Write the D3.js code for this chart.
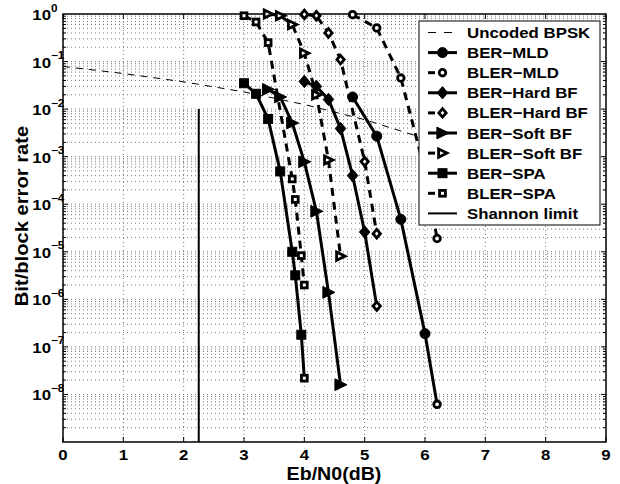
<!DOCTYPE html>
<html>
<head>
<meta charset="utf-8">
<script src="https://cdn.jsdelivr.net/npm/d3@7"></script>
<style>
  html, body { margin: 0; padding: 0; background: #fff; }
  svg text { font-family: "Liberation Sans", Arial, Helvetica, sans-serif; font-weight: bold; fill: #000; }
</style>
</head>
<body>
<svg id="chart" width="620" height="484"></svg>
<script>
// ---- data ----
const xTicks = [0, 1, 2, 3, 4, 5, 6, 7, 8, 9];
const yTickExponents = [0, -1, -2, -3, -4, -5, -6, -7, -8];

const ebn0Uncoded = [0, 1, 2, 3, 4, 5, 6, 7, 8];
const berUncoded  = [7.9e-2, 5.6e-2, 3.75e-2, 2.3e-2, 1.25e-2, 6.0e-3, 2.4e-3, 7.7e-4, 1.9e-4];

const ebn0MLD = [4.8, 5.2, 5.6, 6.0, 6.2];
const berMLD  = [1.8e-2, 2.7e-3, 4.8e-5, 1.9e-7, 6.2e-9];
const blerMLD = [0.97, 0.51, 4.5e-2, 5e-4, 1.9e-5];

const ebn0HardBER  = [4.0, 4.2, 4.4, 4.6, 4.8, 5.0, 5.2];
const berHard      = [3.8e-2, 3.0e-2, 1.6e-2, 3.9e-3, 4.0e-4, 2.6e-5, 7.2e-7];
const ebn0HardBLER = [4.0, 4.2, 4.4, 4.6, 5.0, 5.2];
const blerHard     = [0.98, 0.92, 0.40, 0.11, 7.9e-4, 2.4e-5];

const ebn0Soft = [3.4, 3.6, 3.8, 4.0, 4.2, 4.4, 4.6];
const berSoft  = [2.6e-2, 1.8e-2, 5.1e-3, 7.8e-4, 7.1e-5, 1.4e-6, 1.6e-8];
const blerSoft = [1.0, 0.92, 0.6, 0.15, 2.0e-2, 8.5e-4, 8.1e-6];

const ebn0SpaBER  = [3.0, 3.2, 3.4, 3.6, 3.8, 3.85, 3.95, 4.0];
const berSPA      = [3.5e-2, 2.1e-2, 6.2e-3, 4.9e-4, 1.0e-5, 3.2e-6, 1.8e-7, 2.2e-8];
const ebn0SpaBLER = [3.0, 3.2, 3.4, 3.8, 3.85, 3.95, 4.0];
const blerSPA     = [0.92, 0.68, 0.25, 3.4e-4, 1.26e-4, 8.3e-6, 2.0e-6];

const shannonX = [2.25, 2.25];
const shannonY = [1e-2, 1e-9];

(function () {
  // ---- layout ----
  const svg = d3.select("#chart");
  const pL = 63, pR = 606, pT = 14, pB = 442;
  const x = d3.scaleLinear().domain([0, 9]).range([pL, pR]);
  const y = d3.scaleLog().domain([1e-9, 1]).range([pB, pT]);
  const STRETCH = 1.12;

  function stretch(sel) {
    sel.each(function () {
      const w = this.getComputedTextLength();
      this.setAttribute("textLength", (w * STRETCH).toFixed(2));
      this.setAttribute("lengthAdjust", "spacingAndGlyphs");
    });
    return sel;
  }

  // ---- grid ----
  const grid = svg.append("g").attr("stroke", "#555").attr("stroke-width", 0.8)
    .attr("stroke-dasharray", "1,3").attr("fill", "none");
  xTicks.slice(1, -1).forEach(t => {
    grid.append("line").attr("x1", x(t)).attr("x2", x(t)).attr("y1", pT).attr("y2", pB);
  });
  const minorVals = [];
  for (let e = -9; e <= -1; e++) for (let m = 1; m <= 9; m++) minorVals.push(m * Math.pow(10, e));
  const gridVals = minorVals.filter(v => v > 1.0001e-9);
  gridVals.forEach(v => {
    grid.append("line").attr("x1", pL).attr("x2", pR).attr("y1", y(v)).attr("y2", y(v));
  });

  // ---- axis box and ticks ----
  const axes = svg.append("g").attr("stroke", "#000").attr("fill", "none");
  axes.append("rect").attr("x", pL).attr("y", pT).attr("width", pR - pL).attr("height", pB - pT)
    .attr("stroke-width", 1.5);
  xTicks.forEach(t => {
    axes.append("line").attr("x1", x(t)).attr("x2", x(t)).attr("y1", pB).attr("y2", pB - 5);
    axes.append("line").attr("x1", x(t)).attr("x2", x(t)).attr("y1", pT).attr("y2", pT + 5);
  });
  gridVals.forEach(v => {
    const lg10 = Math.log10(v);
    const major = Math.abs(lg10 - Math.round(lg10)) < 1e-6;
    const len = major ? 5 : 3;
    axes.append("line").attr("x1", pL).attr("x2", pL + len).attr("y1", y(v)).attr("y2", y(v));
    axes.append("line").attr("x1", pR).attr("x2", pR - len).attr("y1", y(v)).attr("y2", y(v));
  });

  // tick labels
  const labels = svg.append("g");
  xTicks.forEach(t => {
    stretch(labels.append("text").attr("x", x(t)).attr("y", 460).attr("text-anchor", "middle")
      .attr("font-size", 15).text(t));
  });
  yTickExponents.forEach(e => {
    const yy = y(Math.pow(10, e));
    stretch(labels.append("text").attr("x", 51).attr("y", yy + 6).attr("text-anchor", "end")
      .attr("font-size", 15).text("10"));
    stretch(labels.append("text").attr("x", 51).attr("y", yy - 2.5).attr("text-anchor", "start")
      .attr("font-size", 10.5).text(e === 0 ? "0" : "\u2212" + Math.abs(e)));
  });

  // axis titles
  stretch(svg.append("text").attr("x", 334).attr("y", 480).attr("text-anchor", "middle")
    .attr("font-size", 17.5).text("Eb/N0(dB)"));
  stretch(svg.append("text").attr("transform", "translate(28,216) rotate(-90)")
    .attr("text-anchor", "middle").attr("font-size", 18).text("Bit/block error rate"));

  // ---- markers ----
  function marker(g, shape, open, cx, cy) {
    const fill = open ? "#fff" : "#000";
    const sw = open ? 2.8 : 1;
    let m;
    if (shape === "circle") {
      m = g.append("circle").attr("cx", cx).attr("cy", cy).attr("r", open ? 3.3 : 5);
    } else if (shape === "square") {
      const h = open ? 2.9 : 4.5;
      m = g.append("rect").attr("x", cx - h).attr("y", cy - h).attr("width", 2 * h).attr("height", 2 * h);
    } else if (shape === "diamond") {
      const h = open ? 4.3 : 6.2;
      m = g.append("path").attr("d", `M${cx},${cy - h}L${cx + h * 0.85},${cy}L${cx},${cy + h}L${cx - h * 0.85},${cy}Z`);
    } else {
      const a = open ? 3.9 : 5.6;
      m = g.append("path").attr("d", `M${cx - a},${cy - a * 1.05}L${cx - a},${cy + a * 1.05}L${cx + a * 1.15},${cy}Z`);
    }
    m.attr("fill", fill).attr("stroke", "#000").attr("stroke-width", sw).attr("stroke-linejoin", "miter");
  }

  const series = [
    { name: "BER\u2212MLD",      xs: ebn0MLD,      ys: berMLD,   dashed: false, shape: "circle",   open: false, hollowLast: true },
    { name: "BLER\u2212MLD",     xs: ebn0MLD,      ys: blerMLD,  dashed: true,  shape: "circle",   open: true },
    { name: "BER\u2212Hard BF",  xs: ebn0HardBER,  ys: berHard,  dashed: false, shape: "diamond",  open: false, hollowLast: true },
    { name: "BLER\u2212Hard BF", xs: ebn0HardBLER, ys: blerHard, dashed: true,  shape: "diamond",  open: true },
    { name: "BER\u2212Soft BF",  xs: ebn0Soft,     ys: berSoft,  dashed: false, shape: "triangle", open: false },
    { name: "BLER\u2212Soft BF", xs: ebn0Soft,     ys: blerSoft, dashed: true,  shape: "triangle", open: true },
    { name: "BER\u2212SPA",      xs: ebn0SpaBER,   ys: berSPA,   dashed: false, shape: "square",   open: false, hollowLast: true },
    { name: "BLER\u2212SPA",     xs: ebn0SpaBLER,  ys: blerSPA,  dashed: true,  shape: "square",   open: true }
  ];

  const line = d3.line().x(d => x(d[0])).y(d => y(d[1]));
  const plot = svg.append("g");

  // uncoded BPSK reference curve
  plot.append("path").datum(d3.zip(ebn0Uncoded, berUncoded)).attr("d", line)
    .attr("fill", "none").attr("stroke", "#000").attr("stroke-width", 1).attr("stroke-dasharray", "7,6");

  series.forEach(s => {
    plot.append("path").datum(d3.zip(s.xs, s.ys)).attr("d", line).attr("fill", "none")
      .attr("stroke", "#000").attr("stroke-width", 3)
      .attr("stroke-dasharray", s.dashed ? "8,6" : null);
  });
  series.forEach(s => {
    const g = plot.append("g");
    s.xs.forEach((v, i) => {
      const isLast = i === s.xs.length - 1;
      marker(g, s.shape, s.open || (s.hollowLast && isLast), x(v), y(s.ys[i]));
    });
  });

  // Shannon limit
  plot.append("path").datum(d3.zip(shannonX, shannonY)).attr("d", line)
    .attr("fill", "none").attr("stroke", "#000").attr("stroke-width", 2);

  // ---- legend ----
  const lg = svg.append("g");
  lg.append("rect").attr("x", 419).attr("y", 21).attr("width", 181).attr("height", 204)
    .attr("fill", "#fff").attr("stroke", "#000").attr("stroke-width", 1);
  const entries = [{ name: "Uncoded BPSK", kind: "uncoded" }]
    .concat(series.map(s => ({ name: s.name, kind: "series", s })))
    .concat([{ name: "Shannon limit", kind: "shannon" }]);
  const lx0 = 428, lx1 = 457, lxm = 442.5;
  entries.forEach((en, i) => {
    const cy = 32.5 + i * 20.1;
    if (en.kind === "uncoded") {
      lg.append("line").attr("x1", lx0).attr("x2", lx1 - 4).attr("y1", cy).attr("y2", cy)
        .attr("stroke", "#000").attr("stroke-width", 1).attr("stroke-dasharray", "8,8");
    } else if (en.kind === "shannon") {
      lg.append("line").attr("x1", lx0).attr("x2", lx1).attr("y1", cy).attr("y2", cy)
        .attr("stroke", "#000").attr("stroke-width", 2);
    } else {
      const s = en.s;
      lg.append("line").attr("x1", lx0).attr("x2", s.dashed ? lxm : lx1).attr("y1", cy).attr("y2", cy)
        .attr("stroke", "#000").attr("stroke-width", 3)
        .attr("stroke-dasharray", s.dashed ? "7,20" : null);
      marker(lg, s.shape, s.open, lxm, cy);
    }
    stretch(lg.append("text").attr("x", 467).attr("y", cy + 5.5).attr("font-size", 15).text(en.name));
  });
})();
</script>
</body>
</html>
